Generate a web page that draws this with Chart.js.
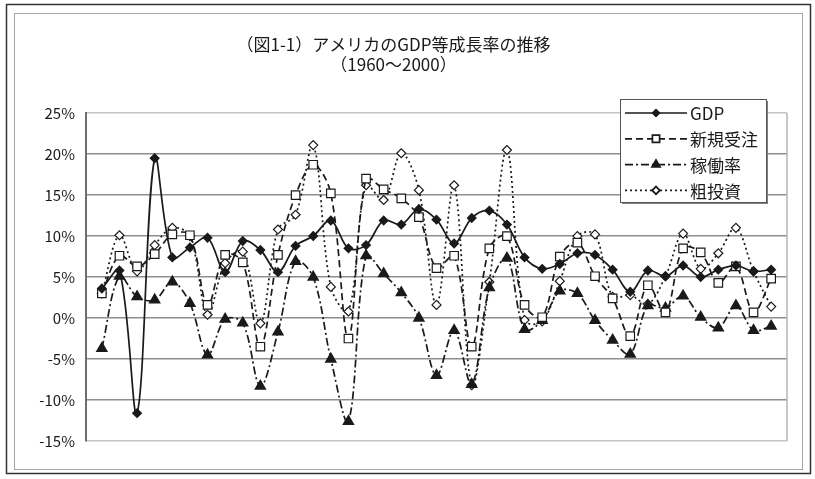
<!DOCTYPE html>
<html lang="ja">
<head>
<meta charset="utf-8">
<title>アメリカのGDP等成長率の推移</title>
<script src="https://cdn.jsdelivr.net/npm/chart.js@4"></script>
<style>
  body { margin: 0; background: #fff; }
  #wrap { width: 815px; height: 479px; }
</style>
</head>
<body>
<div id="wrap"><canvas id="growthChart" width="815" height="479"></canvas></div>
<script>
// 年次データ（前年比、%）
const years = [1961, 1962, 1963, 1964, 1965, 1966, 1967, 1968, 1969, 1970,
               1971, 1972, 1973, 1974, 1975, 1976, 1977, 1978, 1979, 1980,
               1981, 1982, 1983, 1984, 1985, 1986, 1987, 1988, 1989, 1990,
               1991, 1992, 1993, 1994, 1995, 1996, 1997, 1998, 1999];
const gdp = [3.6, 5.8, -11.6, 19.5, 7.4, 8.6, 9.8, 5.6, 9.4, 8.3,
             5.6, 8.8, 10.0, 11.9, 8.5, 8.9, 11.9, 11.4, 13.3, 12.0,
             9.1, 12.2, 13.1, 11.4, 7.4, 6.0, 6.6, 7.9, 7.7, 5.9,
             3.2, 5.8, 5.1, 6.4, 5.0, 5.9, 6.4, 5.7, 5.9];
const newOrders = [3.0, 7.6, 6.3, 7.8, 10.2, 10.1, 1.6, 7.7, 6.8, -3.5,
                   7.7, 15.0, 18.7, 15.2, -2.5, 17.0, 15.7, 14.6, 12.3, 6.1,
                   7.6, -3.5, 8.5, 10.0, 1.6, 0.1, 7.5, 9.2, 5.1, 2.4,
                   -2.2, 4.0, 0.7, 8.5, 8.0, 4.3, 6.3, 0.7, 4.8];
const utilization = [-3.7, 5.1, 2.6, 2.2, 4.4, 1.8, -4.5, -0.15, -0.6, -8.3,
                     -1.7, 6.9, 5.0, -5.0, -12.6, 7.6, 5.4, 3.1, 0.0, -7.0,
                     -1.5, -8.1, 3.7, 7.3, -1.4, -0.3, 3.3, 3.0, -0.3, -2.7,
                     -4.4, 1.5, 1.2, 2.7, 0.1, -1.2, 1.5, -1.5, -1.0];
const grossInvestment = [3.0, 10.1, 5.7, 8.9, 11.0, 10.0, 0.4, 6.7, 8.1, -0.65,
                         10.8, 12.6, 21.1, 3.8, 0.8, 16.2, 14.4, 20.1, 15.6, 1.6,
                         16.2, -8.2, 4.4, 20.5, -0.25, -0.4, 4.5, 10.0, 10.2, 2.6,
                         2.8, 1.7, 5.1, 10.3, 6.0, 7.9, 11.0, 5.7, 1.4];
const yTicks = [-15, -10, -5, 0, 5, 10, 15, 20, 25];

const FONT = '"Noto Sans CJK JP", "Noto Sans", sans-serif';
const INK = '#1a1a1a';

function toPoints(values) {
    return years.map((y, i) => ({ x: y, y: values[i] }));
}

// 外枠・プロットエリア右端・凡例
const framePlugin = {
    id: 'frame',
    beforeDraw(chart) {
        const ctx = chart.ctx;
        ctx.save();
        ctx.fillStyle = '#fff';
        ctx.fillRect(0, 0, chart.width, chart.height);
        ctx.strokeStyle = '#333';
        ctx.lineWidth = 1.5;
        ctx.strokeRect(6.5, 4.5, 804, 469);
        ctx.strokeStyle = '#a5a5a5';
        ctx.lineWidth = 1;
        ctx.strokeRect(14.5, 13.5, 788, 456);
        ctx.restore();
    },
    beforeDatasetsDraw(chart) {
        const { ctx, chartArea } = chart;
        ctx.save();
        ctx.strokeStyle = '#b5b5b5';
        ctx.lineWidth = 1.5;
        ctx.beginPath();
        ctx.moveTo(chartArea.right, chartArea.top);
        ctx.lineTo(chartArea.right, chartArea.bottom);
        ctx.stroke();
        ctx.restore();
    },
    afterDraw(chart) {
        const ctx = chart.ctx;
        const box = { x: 620, y: 99, w: 146, h: 103 };
        ctx.save();
        ctx.fillStyle = '#808080';
        ctx.fillRect(box.x + 2, box.y + 2, box.w, box.h);
        ctx.fillStyle = '#fff';
        ctx.fillRect(box.x, box.y, box.w, box.h);
        ctx.strokeStyle = '#555';
        ctx.lineWidth = 1;
        ctx.strokeRect(box.x + 0.5, box.y + 0.5, box.w, box.h);

        chart.data.datasets.forEach((ds, k) => {
            const y = 113 + k * 25.8;
            ctx.strokeStyle = ds.borderColor;
            ctx.lineWidth = ds.borderWidth;
            ctx.setLineDash(ds.borderDash || []);
            ctx.beginPath();
            ctx.moveTo(625, y);
            ctx.lineTo(687, y);
            ctx.stroke();
            ctx.setLineDash([]);
            ctx.fillStyle = ds.pointBackgroundColor;
            ctx.strokeStyle = ds.pointBorderColor;
            Chart.helpers.drawPoint(ctx, {
                pointStyle: ds.pointStyle,
                radius: ds.pointRadius * 0.85,
                rotation: 0,
                borderWidth: 1
            }, 656, y);
            ctx.fillStyle = INK;
            ctx.font = '17px ' + FONT;
            ctx.textBaseline = 'middle';
            ctx.textAlign = 'left';
            ctx.fillText(ds.label, 690, y + 1);
        });
        ctx.restore();
    }
};

new Chart(document.getElementById('growthChart'), {
    type: 'line',
    data: {
        datasets: [
            {
                label: 'GDP',
                data: toPoints(gdp),
                borderColor: INK,
                borderWidth: 1.7,
                pointStyle: 'rectRot',
                pointRadius: 4,
                pointBackgroundColor: INK,
                pointBorderColor: INK,
                tension: 0.35
            },
            {
                label: '新規受注',
                data: toPoints(newOrders),
                borderColor: INK,
                borderWidth: 1.7,
                borderDash: [7, 4],
                pointStyle: 'rect',
                pointRadius: 6,
                pointBackgroundColor: '#fff',
                pointBorderColor: INK,
                pointBorderWidth: 1.2,
                tension: 0.35
            },
            {
                label: '稼働率',
                data: toPoints(utilization),
                borderColor: INK,
                borderWidth: 1.7,
                borderDash: [8, 3, 2, 3],
                pointStyle: 'triangle',
                pointRadius: 5.5,
                pointBackgroundColor: INK,
                pointBorderColor: INK,
                tension: 0.35
            },
            {
                label: '粗投資',
                data: toPoints(grossInvestment),
                borderColor: INK,
                borderWidth: 1.7,
                borderDash: [2, 3],
                pointStyle: 'rectRot',
                pointRadius: 4.5,
                pointBackgroundColor: '#fff',
                pointBorderColor: INK,
                pointBorderWidth: 1.2,
                tension: 0.35
            }
        ]
    },
    options: {
        responsive: false,
        animation: false,
        layout: { padding: { left: 0, right: 28, top: 0, bottom: 38 } },
        plugins: {
            legend: { display: false },
            tooltip: { enabled: false },
            title: {
                display: true,
                text: ['（図1-1）アメリカのGDP等成長率の推移', '（1960～2000）'],
                color: INK,
                font: { family: FONT, size: 17, weight: 'normal', lineHeight: 1.15 },
                padding: { top: 35, bottom: 39 }
            }
        },
        scales: {
            x: {
                type: 'linear',
                min: 1960.1,
                max: 1999.9,
                display: false
            },
            y: {
                min: yTicks[0],
                max: yTicks[yTicks.length - 1],
                afterFit(scale) { scale.width = 86; },
                afterBuildTicks(scale) { scale.ticks = yTicks.map(v => ({ value: v })); },
                ticks: {
                    color: INK,
                    padding: 11,
                    font: { family: FONT, size: 15 },
                    callback: v => v + '%'
                },
                grid: {
                    drawTicks: false,
                    lineWidth: 1.5,
                    color: ctx => (ctx.tick && (ctx.tick.value === 25 || ctx.tick.value === -15)) ? '#c4c4c4' : '#8e8e8e'
                },
                border: { color: '#6e6e6e', width: 2 }
            }
        }
    },
    plugins: [framePlugin]
});
</script>
</body>
</html>
